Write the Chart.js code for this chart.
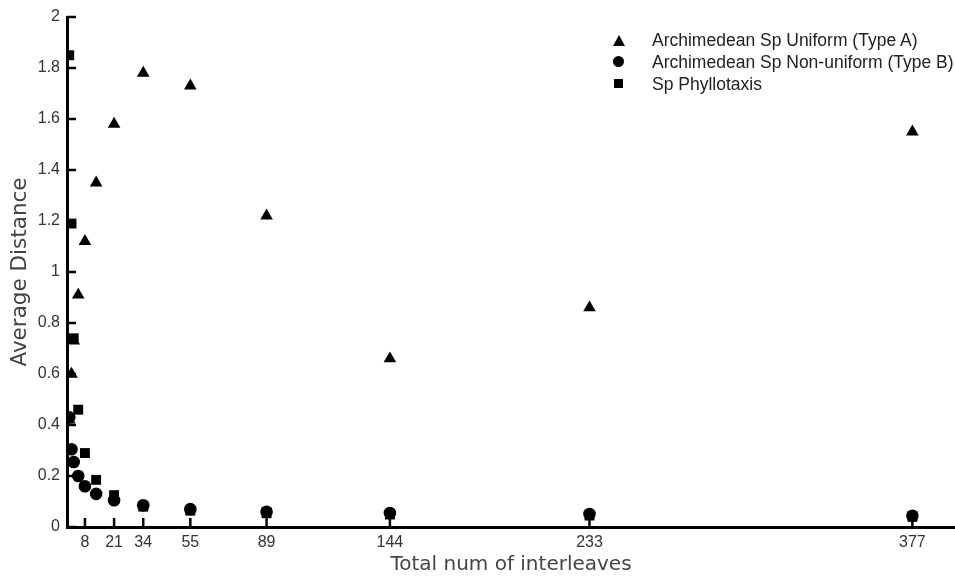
<!DOCTYPE html>
<html>
<head>
<meta charset="utf-8">
<script src="https://cdn.jsdelivr.net/npm/chart.js@4"></script>
<style>
  html, body { margin: 0; padding: 0; background: #fff; }
  #wrap { position: relative; width: 955px; height: 577px; }
  #legend { position: absolute; left: 612px; top: 29px; font: 17.5px "Liberation Sans", Arial, sans-serif; color: #222; }
  #legend div { height: 22px; line-height: 22px; white-space: nowrap; }
  #legend span.mk { display: inline-block; width: 14px; margin-right: 26px; position: relative; height: 22px; vertical-align: top; }
  .tri::before { content: ''; position: absolute; left: 1px; top: 6px; border-left: 6px solid transparent; border-right: 6px solid transparent; border-bottom: 11px solid #000; }
  .dot::before { content: ''; position: absolute; left: 1px; top: 5px; width: 11px; height: 11px; border-radius: 50%; background: #000; }
  .sq::before { content: ''; position: absolute; left: 2px; top: 6px; width: 9px; height: 9px; background: #000; }
</style>
</head>
<body>
<div id="wrap">
  <canvas id="chart" width="955" height="577"></canvas>
  <div id="legend">
    <div><span class="mk tri"></span>Archimedean Sp Uniform (Type A)</div>
    <div><span class="mk dot"></span>Archimedean Sp Non-uniform (Type B)</div>
    <div><span class="mk sq"></span>Sp Phyllotaxis</div>
  </div>
</div>
<script>
'use strict';

// data
const interleaves = [1, 2, 3, 5, 8, 13, 21, 34, 55, 89, 144, 233, 377];
const uniformTypeA = [0.42, 0.60, 0.73, 0.91, 1.12, 1.35, 1.58, 1.78, 1.73, 1.22, 0.66, 0.86, 1.55];
const nonUniformTypeB = [0.43, 0.305, 0.255, 0.20, 0.16, 0.13, 0.105, 0.085, 0.07, 0.06, 0.055, 0.051, 0.044];
const phyllotaxis = [1.85, 1.19, 0.74, 0.46, 0.29, 0.185, 0.125, 0.08, 0.064, 0.054, 0.049, 0.045, 0.04];
const xTickValues = [8, 21, 34, 55, 89, 144, 233, 377];
const yTickValues = [0, 0.2, 0.4, 0.6, 0.8, 1, 1.2, 1.4, 1.6, 1.8, 2];

function toPoints(values){
  return values.map((v, i) => ({x: interleaves[i], y: v}));
}

// small tick marks pointing into the plot, like the original
const innerTicks = {
  id: 'innerTicks',
  beforeDatasetsDraw(chart){
    const ctx = chart.ctx;
    const xs = chart.scales.x;
    const ys = chart.scales.y;
    const area = chart.chartArea;
    ctx.save();
    ctx.strokeStyle = '#000';
    ctx.lineWidth = 2.5;
    xTickValues.forEach(v => {
      const px = xs.getPixelForValue(v);
      ctx.beginPath();
      ctx.moveTo(px, area.bottom);
      ctx.lineTo(px, area.bottom - 9);
      ctx.stroke();
    });
    yTickValues.forEach(v => {
      const py = ys.getPixelForValue(v);
      ctx.beginPath();
      ctx.moveTo(area.left, py);
      ctx.lineTo(area.left + 9, py);
      ctx.stroke();
    });
    ctx.restore();
  }
};

new Chart(document.getElementById('chart'), {
  type: 'scatter',
  data: {
    datasets: [{
      label: 'Archimedean Sp Uniform (Type A)',
      data: toPoints(uniformTypeA),
      pointStyle: 'triangle',
      pointRadius: 7.3,
      backgroundColor: '#000',
      borderColor: '#000',
      borderWidth: 0,
      order: 2
    }, {
      label: 'Archimedean Sp Non-uniform (Type B)',
      data: toPoints(nonUniformTypeB),
      pointStyle: 'circle',
      pointRadius: 6.3,
      backgroundColor: '#000',
      borderColor: '#000',
      borderWidth: 0,
      order: 0
    }, {
      label: 'Sp Phyllotaxis',
      data: toPoints(phyllotaxis),
      pointStyle: 'rect',
      pointRadius: 7,
      backgroundColor: '#000',
      borderColor: '#000',
      borderWidth: 0,
      order: 1
    }]
  },
  options: {
    responsive: false,
    animation: false,
    layout: { autoPadding: false, padding: { top: 17, right: 0, left: 0, bottom: 0 } },
    plugins: {
      legend: { display: false },
      tooltip: { enabled: false }
    },
    scales: {
      x: {
        type: 'linear',
        min: 0,
        max: 396,
        afterBuildTicks: scale => { scale.ticks = xTickValues.map(v => ({value: v})); },
        afterFit: scale => { scale.height = 50; scale.paddingLeft = 0; scale.paddingRight = 0; },
        grid: { display: false, drawTicks: false },
        border: { display: true, color: '#000', width: 3 },
        ticks: { color: '#333', font: { family: 'Liberation Sans', size: 16 }, padding: 6, autoSkip: false, maxRotation: 0 },
        title: { display: true, text: 'Total num of interleaves', color: '#444', font: { family: 'DejaVu Sans', size: 20 }, padding: { top: 0, bottom: 0 } }
      },
      y: {
        min: 0,
        max: 2,
        afterBuildTicks: scale => { scale.ticks = yTickValues.map(v => ({value: v})); },
        afterFit: scale => { scale.width = 67; },
        grid: { display: false, drawTicks: false },
        border: { display: true, color: '#000', width: 3 },
        ticks: { color: '#333', font: { family: 'Liberation Sans', size: 16 }, padding: 7, callback: v => String(+v.toFixed(1)) },
        title: { display: true, text: 'Average Distance', color: '#444', font: { family: 'DejaVu Sans', size: 21.5 }, padding: { top: 8, bottom: 0 } }
      }
    }
  },
  plugins: [innerTicks]
});
</script>
</body>
</html>
